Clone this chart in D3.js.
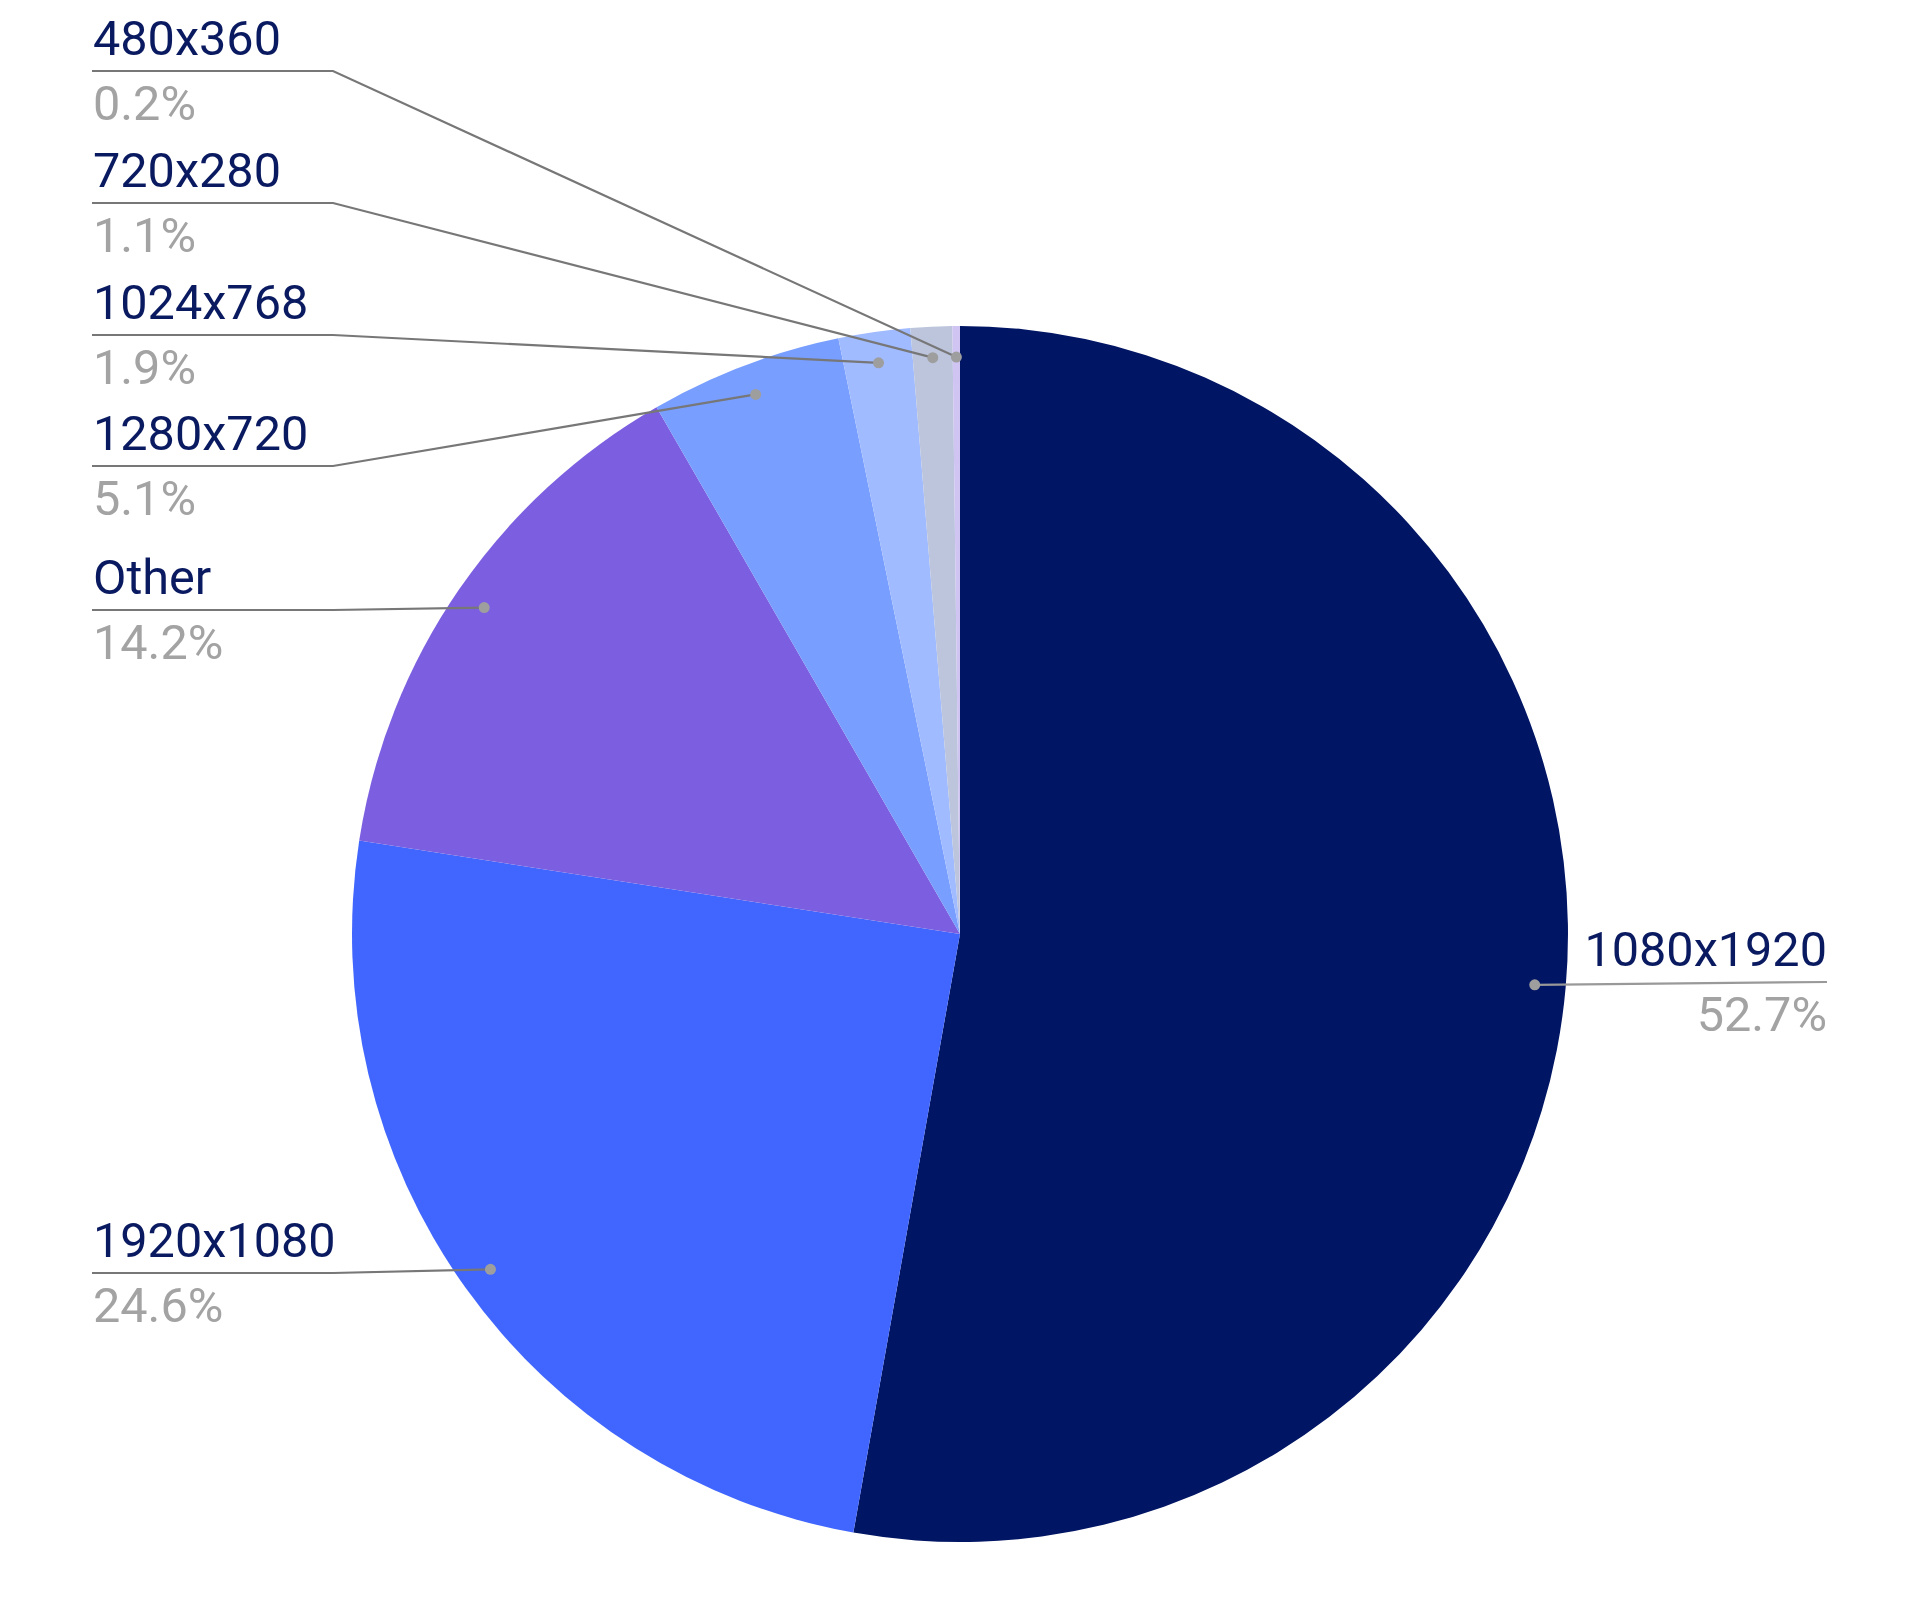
<!DOCTYPE html>
<html>
<head>
<meta charset="utf-8">
<script src="https://cdn.jsdelivr.net/npm/d3@7"></script>
<style>
html,body{margin:0;padding:0;background:#fff;}
svg{display:block;font-family:Roboto,"Noto Sans",sans-serif;}
</style>
</head>
<body>
<svg id="chart" width="1920" height="1610"></svg>
<script>
const categories = ["1080x1920","1920x1080","Other","1280x720","1024x768","720x280","480x360"];
const values = [52.7, 24.6, 14.2, 5.1, 1.9, 1.1, 0.2];
const percentLabels = ["52.7%","24.6%","14.2%","5.1%","1.9%","1.1%","0.2%"];
const colors = ["#001563","#4066FF","#7C5FE0","#789EFF","#A0BBFF","#BCC5DC","#D0C4F2"];
// label anchor rows (y of leader line)
const labelRows = [982, 1273, 610, 466, 335, 203, 71];
const labelSide = ["right","left","left","left","left","left","left"];

const W = 1920, H = 1610;
const cx = 960, cy = 934, R = 608;
const svg = d3.select("#chart");
const data = categories.map((c,i)=>({name:c, value:values[i], pct:percentLabels[i], color:colors[i], row:labelRows[i], side:labelSide[i]}));

const pie = d3.pie().value(d=>d.value).sort(null);
const arcs = pie(data);
const arc = d3.arc().innerRadius(0).outerRadius(R);
const dotArc = d3.arc().innerRadius(R*0.949).outerRadius(R*0.949);

const g = svg.append("g").attr("transform",`translate(${cx},${cy})`);
g.selectAll("path.slice").data(arcs).enter().append("path")
  .attr("class","slice")
  .attr("d",arc)
  .attr("fill",d=>d.data.color);

const leftX = 92, elbowX = 333, rightX = 1827;
const fs = 48.6;
const lg = svg.append("g");
arcs.forEach(a=>{
  const d = a.data;
  const c = dotArc.centroid(a);
  const px = c[0]+cx, py = c[1]+cy;
  if (d.side === "left") {
    lg.append("polyline")
      .attr("points",`${leftX},${d.row} ${elbowX},${d.row} ${px},${py}`)
      .attr("fill","none").attr("stroke","#777").attr("stroke-width",2.2);
    lg.append("text").attr("x",leftX+1).attr("y",d.row-16)
      .attr("font-size",fs).attr("fill","#0A1A60").text(d.name);
    lg.append("text").attr("x",leftX+1).attr("y",d.row+49)
      .attr("font-size",fs).attr("fill","#A3A3A3").text(d.pct);
  } else {
    lg.append("polyline")
      .attr("points",`${px},${py} ${rightX},${d.row}`)
      .attr("fill","none").attr("stroke","#999").attr("stroke-width",2.2);
    lg.append("text").attr("x",rightX).attr("y",d.row-16).attr("text-anchor","end")
      .attr("font-size",fs).attr("fill","#0A1A60").text(d.name);
    lg.append("text").attr("x",rightX).attr("y",d.row+49).attr("text-anchor","end")
      .attr("font-size",fs).attr("fill","#A3A3A3").text(d.pct);
  }
  lg.append("circle").attr("cx",px).attr("cy",py).attr("r",5.5).attr("fill","#9E9E9E");
});
</script>
</body>
</html>
